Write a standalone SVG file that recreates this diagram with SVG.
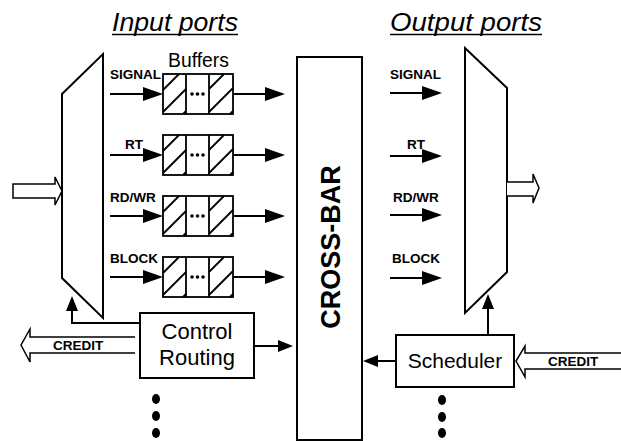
<svg xmlns="http://www.w3.org/2000/svg" xmlns:xlink="http://www.w3.org/1999/xlink" width="621" height="441" viewBox="0 0 621 441">
<style>
.ln{stroke:#000;stroke-width:2;fill:none}
.box{stroke:#000;stroke-width:2;fill:#fff}
.hol{stroke:#000;stroke-width:1.5;fill:#fff}
.lbl{font-family:"Liberation Sans",Arial,sans-serif;font-weight:bold;font-size:13.5px;fill:#000}
.big{font-family:"Liberation Sans",Arial,sans-serif;font-size:22px;fill:#000}
.ttl{font-family:"Liberation Sans",Arial,sans-serif;font-style:italic;font-size:25px;fill:#000}
</style>
<defs>
<marker id="ah" markerUnits="userSpaceOnUse" markerWidth="20" markerHeight="14" refX="10" refY="7" orient="auto" viewBox="0 0 20 14">
<path d="M0,0 L20,7 L0,14 z" fill="#000"/>
</marker>
<marker id="ahs" markerUnits="userSpaceOnUse" markerWidth="15" markerHeight="12" refX="7.5" refY="6" orient="auto" viewBox="0 0 15 12">
<path d="M0,0 L15,6 L0,12 z" fill="#000"/>
</marker>
<g id="buf">
<rect x="0" y="0" width="70" height="40" fill="#fff" stroke="#000" stroke-width="1.8"/>
<path d="M23,0 V40 M46,0 V40" stroke="#000" stroke-width="1.8" fill="none"/>
<path d="M0,16 L16,0 M0,38 L23,15 M20,40 L23,37 M46,15 L61,0 M46,38 L70,14 M67,40 L70,37" stroke="#000" stroke-width="1.8" fill="none"/>
<circle cx="29" cy="20" r="1.8"/><circle cx="34.5" cy="20" r="1.8"/><circle cx="40" cy="20" r="1.8"/>
</g>
</defs>
<rect width="621" height="441" fill="#fff"/>

<g id="titles">
<text class="ttl" x="112" y="31" textLength="126" lengthAdjust="spacingAndGlyphs">Input ports</text>
<line x1="112" y1="34.5" x2="238" y2="34.5" stroke="#000" stroke-width="1.5"/>
<text class="ttl" x="390" y="31" textLength="152" lengthAdjust="spacingAndGlyphs">Output ports</text>
<line x1="390" y1="34.5" x2="542" y2="34.5" stroke="#000" stroke-width="1.5"/>
<text class="big" x="168" y="67" style="font-size:20px" textLength="61" lengthAdjust="spacingAndGlyphs">Buffers</text>
</g>

<g id="input-mux">
<polygon class="box" points="62,94 103,54 103,318 62,278"/>
</g>

<g id="buffer1"><use xlink:href="#buf" x="163" y="74"/></g>
<g id="buffer2"><use xlink:href="#buf" x="163" y="135"/></g>
<g id="buffer3"><use xlink:href="#buf" x="163" y="196"/></g>
<g id="buffer4"><use xlink:href="#buf" x="163" y="257"/></g>

<g id="crossbar">
<rect class="box" x="297" y="57" width="65" height="383"/>
<text class="lbl" style="font-size:27px" transform="translate(340,247) rotate(-90)" text-anchor="middle">CROSS-BAR</text>
</g>

<g id="control-routing">
<rect class="box" x="140" y="313" width="114" height="65"/>
<text class="big" x="197" y="339" text-anchor="middle">Control</text>
<text class="big" x="197" y="365" text-anchor="middle">Routing</text>
</g>

<g id="scheduler">
<rect class="box" x="396" y="335" width="118" height="52"/>
<text class="big" x="455" y="368" text-anchor="middle" style="font-size:21px">Scheduler</text>
</g>

<g id="output-mux">
<polygon class="box" points="465,48 507,88 507,272 465,313"/>
</g>

<g id="connectors">
<line class="ln" x1="110" y1="94" x2="153" y2="94" marker-end="url(#ah)"/>
<line class="ln" x1="110" y1="155" x2="153" y2="155" marker-end="url(#ah)"/>
<line class="ln" x1="110" y1="216" x2="153" y2="216" marker-end="url(#ah)"/>
<line class="ln" x1="110" y1="277" x2="153" y2="277" marker-end="url(#ah)"/>
<line class="ln" x1="233" y1="94" x2="275" y2="94" marker-end="url(#ah)"/>
<line class="ln" x1="233" y1="155" x2="275" y2="155" marker-end="url(#ah)"/>
<line class="ln" x1="233" y1="216" x2="275" y2="216" marker-end="url(#ah)"/>
<line class="ln" x1="233" y1="277" x2="275" y2="277" marker-end="url(#ah)"/>
<line class="ln" x1="390" y1="93" x2="432" y2="93" marker-end="url(#ah)"/>
<line class="ln" x1="390" y1="156" x2="432" y2="156" marker-end="url(#ah)"/>
<line class="ln" x1="390" y1="215" x2="432" y2="215" marker-end="url(#ah)"/>
<line class="ln" x1="390" y1="278" x2="432" y2="278" marker-end="url(#ah)"/>
<polyline class="ln" points="139,323 72,323 72,303.5" marker-end="url(#ahs)"/>
<line class="ln" x1="254" y1="346" x2="285.5" y2="346" marker-end="url(#ahs)"/>
<line class="ln" x1="396" y1="361" x2="370.5" y2="361" marker-end="url(#ahs)"/>
<line class="ln" x1="488" y1="335" x2="488" y2="301.5" marker-end="url(#ahs)"/>
<polygon class="hol" points="13,184 55,184 55,177 62,191 55,205 55,198 13,198"/>
<polyline class="hol" points="507,182 533,182 533,174 539,188 533,203 533,196 507,196"/>
<polyline class="hol" points="135,337 30,337 30,329 21,345 30,362 30,353 135,353"/>
<polyline class="hol" points="621,353 525,353 525,346 516,361 525,377 525,369 621,369"/>
</g>

<g id="labels">
<text class="lbl" x="110" y="79">SIGNAL</text>
<text class="lbl" x="125" y="149">RT</text>
<text class="lbl" x="110" y="202">RD/WR</text>
<text class="lbl" x="110" y="263">BLOCK</text>
<text class="lbl" x="390" y="79">SIGNAL</text>
<text class="lbl" x="407" y="149">RT</text>
<text class="lbl" x="393" y="202">RD/WR</text>
<text class="lbl" x="392" y="263">BLOCK</text>
<text class="lbl" x="53" y="350">CREDIT</text>
<text class="lbl" x="548" y="366">CREDIT</text>
</g>

<g id="continuation-dots">
<ellipse cx="156" cy="399" rx="4" ry="5"/>
<ellipse cx="156" cy="416" rx="4" ry="5"/>
<ellipse cx="156" cy="433" rx="4" ry="5"/>
<ellipse cx="442" cy="400" rx="4" ry="5"/>
<ellipse cx="442" cy="417" rx="4" ry="5"/>
<ellipse cx="442" cy="433" rx="4" ry="5"/>
</g>
</svg>
